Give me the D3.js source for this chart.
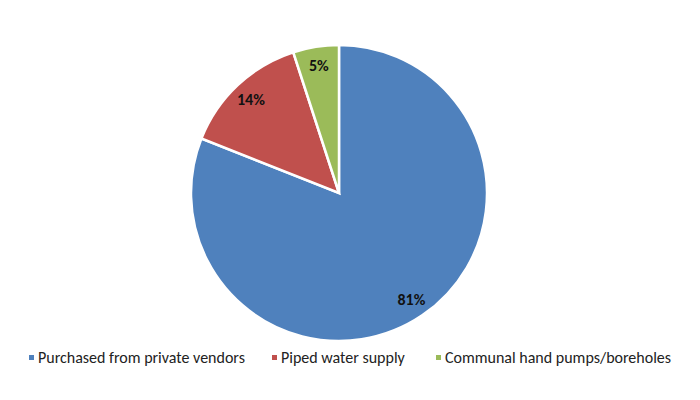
<!DOCTYPE html>
<html>
<head>
    <script src="https://d3js.org/d3.v7.min.js"></script>
    <style>
        body { margin: 0; background: #fff; }
    </style>
</head>
<body>
    <script>
        const categories = ['Purchased from private vendors', 'Piped water supply', 'Communal hand pumps/boreholes'];
        const values = [81, 14, 5];
        const colors = ['#4F81BD', '#C0504D', '#9BBB59'];

        const width = 700, height = 400;
        const cx = 339, cy = 193, radius = 148;

        const svg = d3.select('body')
            .append('svg')
            .attr('width', width)
            .attr('height', height)
            .style('font-family', 'Carlito, Calibri, Lato, sans-serif');

        const data = categories.map((c, i) => ({ name: c, value: values[i], color: colors[i] }));

        const pie = d3.pie()
            .value(d => d.value)
            .sort(null);

        const arc = d3.arc().innerRadius(0).outerRadius(radius);
        const labelArc = d3.arc().innerRadius(radius * 0.87).outerRadius(radius * 0.87);

        const g = svg.append('g').attr('transform', `translate(${cx},${cy})`);

        const arcs = pie(data);

        g.selectAll('path')
            .data(arcs)
            .join('path')
            .attr('d', arc)
            .attr('fill', d => d.data.color)
            .attr('stroke', '#fff')
            .attr('stroke-width', 2.5);

        g.selectAll('text')
            .data(arcs)
            .join('text')
            .attr('transform', d => `translate(${labelArc.centroid(d)})`)
            .attr('text-anchor', 'middle')
            .attr('dy', '0.35em')
            .attr('font-size', 16)
            .attr('font-weight', 'bold')
            .attr('fill', '#111')
            .text(d => d.data.value + '%');

        // Legend
        const legendX = [29, 272, 436];
        const legend = svg.append('g').attr('transform', 'translate(0,363)');
        const items = legend.selectAll('g')
            .data(data)
            .join('g')
            .attr('transform', (d, i) => `translate(${legendX[i]},0)`);

        items.append('rect')
            .attr('x', 0)
            .attr('y', -8)
            .attr('width', 5)
            .attr('height', 5)
            .attr('fill', d => d.color);

        items.append('text')
            .attr('x', 9)
            .attr('y', 0)
            .attr('font-size', 16)
            .attr('fill', '#222')
            .text(d => d.name);
    </script>
</body>
</html>
